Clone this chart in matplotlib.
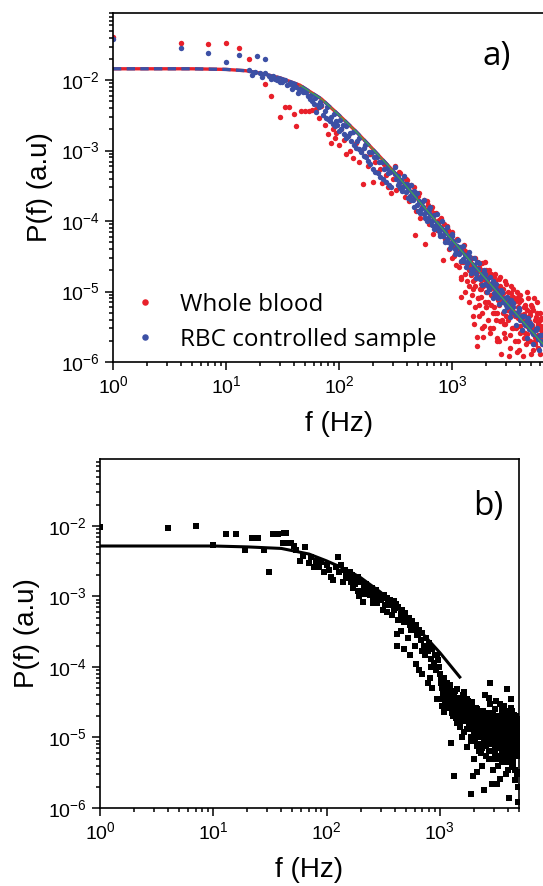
import matplotlib
matplotlib.use('Agg')
import matplotlib.pyplot as plt

plt.rcParams['font.family'] = ['Liberation Sans', 'DejaVu Sans']
plt.rcParams['mathtext.fontset'] = 'custom'
plt.rcParams['mathtext.rm'] = 'Liberation Sans'
plt.rcParams['mathtext.it'] = 'Liberation Sans:italic'
plt.rcParams['mathtext.default'] = 'regular'
plt.rcParams['axes.unicode_minus'] = False

RED = '#e8202a'
BLUE = '#3c50a5'

# ---- panel a : whole blood (red) ----
red1_f = [1, 4, 7, 10, 13, 16, 22, 25, 30, 33, 36, 40, 42, 46, 50, 54, 58, 62, 66, 70, 75, 80, 85, 88, 92, 95]
red1_p = [4.1e-2, 3.4e-2, 3.3e-2, 3.4e-2, 2.9e-2, 2.0e-2, 8.8e-3, 5.9e-3, 3.0e-3, 4.1e-3, 4.1e-3, 3.3e-3, 2.2e-3,
          3.6e-3, 3.6e-3, 3.7e-3, 3.8e-3, 3.9e-3, 2.9e-3, 4.3e-3, 2.3e-3, 1.7e-3, 1.3e-3, 2.0e-3, 1.5e-3, 1.8e-3]
red2_f = [100, 105, 110, 115, 120, 125, 133, 140, 150, 155, 163, 170, 180, 190, 200, 210, 220, 230, 240, 250,
          260, 270, 280, 290]
red2_p = [1.2e-3, 2.0e-3, 1.4e-3, 9.0e-4, 1.6e-3, 1.0e-3, 7.8e-4, 1.3e-3, 7.0e-4, 1.0e-3, 3.4e-4, 8.5e-4, 6.0e-4,
          9.0e-4, 3.6e-4, 7.0e-4, 5.0e-4, 5.5e-4, 3.5e-4, 6.5e-4, 4.5e-4, 3.0e-4, 5.0e-4, 2.5e-4]
red3_f = [300, 320, 340, 360, 380, 400, 420, 440, 470, 480, 500, 520, 540, 580, 600, 620, 660, 680, 700, 730,
          760, 800, 830, 860, 900, 950]
red3_p = [4.0e-4, 2.8e-4, 5.0e-4, 3.0e-4, 2.2e-4, 3.8e-4, 1.9e-4, 2.6e-4, 6.3e-5, 1.4e-4, 2.3e-4, 1.1e-4, 1.6e-4,
          4.8e-5, 1.9e-4, 9.0e-5, 1.6e-4, 6.5e-5, 1.3e-4, 7.5e-5, 1.05e-4, 1.1e-4, 2.8e-5, 5.5e-5, 8.5e-5, 4.0e-5]
red4_f = [1000, 1050, 1100, 1150, 1200, 1250, 1300, 1350, 1400, 1450, 1500, 1550, 1600, 1650, 1680, 1700, 1750,
          1800, 1850, 1900, 1950, 2000, 2100, 2150, 2200, 2300, 2350, 2400, 2500, 2550, 2600, 2700, 2750, 2800,
          2900, 3000, 3100, 3200, 3300, 3400, 3500, 3600, 3700, 3800, 3900, 4000, 4200, 4400, 4500, 4700, 4800,
          5000, 5200, 5400, 5600, 5800, 6000, 6200]
red4_p = [7.0e-5, 3.2e-5, 5.5e-5, 2.2e-5, 8.4e-6, 4.2e-5, 1.8e-5, 3.4e-5, 1.2e-5, 2.8e-5, 9.0e-6, 2.2e-5, 6.0e-6,
          2.3e-6, 1.7e-6, 1.6e-5, 4.5e-6, 1.3e-5, 2.5e-5, 2.3e-6, 7.0e-6, 2.0e-5, 4.0e-6, 1.1e-5, 1.8e-5, 3.0e-6,
          6.0e-6, 1.4e-5, 2.2e-6, 9.0e-6, 1.5e-5, 1.3e-6, 4.0e-6, 1.1e-5, 2.6e-6, 1.3e-5, 5.5e-6, 1.2e-6, 9.5e-6,
          3.0e-6, 1.1e-5, 2.0e-6, 7.5e-6, 4.2e-6, 1.5e-6, 9.0e-6, 2.8e-6, 6.5e-6, 1.8e-6, 8.0e-6, 3.5e-6, 1.3e-6,
          5.5e-6, 2.3e-6, 7.0e-6, 1.6e-6, 4.0e-6, 2.6e-6]
red5_f = [1000, 1100, 1200, 1300, 1400, 1500, 1600, 1700, 1800, 1900, 2000, 2100, 2200, 2300, 2400, 2500, 2600,
          2800, 3000, 3200, 3400, 3600, 3800, 4000, 4300, 4600, 4900, 5200, 5500, 5800, 6100]
red5_p = [3.0e-5, 4.2e-5, 2.6e-5, 3.8e-5, 2.0e-5, 3.0e-5, 1.5e-5, 2.6e-5, 8.5e-6, 1.9e-5, 1.0e-5, 1.6e-5, 6.5e-6,
          1.2e-5, 5.0e-6, 1.0e-5, 6.5e-6, 7.0e-6, 4.5e-6, 8.0e-6, 6.5e-6, 4.5e-6, 6.0e-6, 3.2e-6, 4.8e-6, 2.5e-6,
          4.6e-6, 3.0e-6, 4.4e-6, 2.4e-6, 3.2e-6]
red6_f = [1020, 1080, 1140, 1210, 1280, 1360, 1440, 1520, 1610, 1700, 1800, 1900, 2010, 2120, 2240, 2370, 2500,
          2640, 2790, 2950, 3120, 3300, 3480, 3680, 3890, 4110, 4340, 4590, 4850, 5120, 5410, 5720, 6050]
red6_p = [4.5e-5, 2.4e-5, 3.5e-5, 1.6e-5, 4.6e-5, 1.4e-5, 2.4e-5, 1.1e-5, 3.0e-5, 8.0e-6, 2.0e-5, 1.2e-5, 6.0e-6,
          1.8e-5, 9.0e-6, 1.6e-5, 5.0e-6, 1.2e-5, 8.0e-6, 3.5e-6, 1.0e-5, 5.0e-6, 8.5e-6, 3.0e-6, 7.0e-6, 4.2e-6,
          2.2e-6, 5.5e-6, 3.8e-6, 6.0e-6, 2.0e-6, 3.6e-6, 5.0e-6]
red7_f = [310, 350, 390, 430, 460, 510, 560, 610, 650, 720, 780, 850, 920, 980]
red7_p = [6.0e-4, 4.8e-4, 4.0e-4, 3.3e-4, 3.0e-4, 2.5e-4, 2.0e-4, 1.7e-4, 1.5e-4, 1.3e-4, 1.0e-4, 9.0e-5, 7.5e-5,
          6.5e-5]
red8_f = [1530, 1570, 1630, 1690, 1740, 1780, 1830, 1880, 1920, 1970, 2040, 2080, 2130, 2180, 2260, 2320, 2420,
          2470, 2530, 2580, 2660, 2720, 2820, 2880, 2970, 3050, 3150, 3250, 3350, 3450, 3550, 3650, 3750, 3850,
          3950, 4100, 4250, 4350, 4450, 4600, 4750, 4900, 5050, 5150, 5300, 5450, 5650, 5900, 6150, 6350]
red8_p = [1.4e-5, 3.5e-6, 1.9e-5, 8.0e-6, 2.2e-5, 1.1e-5, 5.0e-6, 1.5e-5, 3.2e-6, 2.6e-5, 1.4e-5, 7.0e-6, 2.0e-5,
          3.0e-6, 1.3e-5, 8.5e-6, 1.8e-5, 4.0e-6, 1.2e-5, 2.0e-6, 1.6e-5, 7.0e-6, 9.5e-6, 3.5e-6, 1.4e-5, 5.5e-6,
          8.0e-6, 2.4e-6, 1.2e-5, 5.0e-6, 7.0e-6, 3.2e-6, 1.0e-5, 2.0e-6, 5.5e-6, 7.5e-6, 3.8e-6, 6.0e-6, 2.6e-6,
          1.0e-5, 4.4e-6, 2.0e-6, 6.5e-6, 3.4e-6, 8.0e-6, 1.8e-6, 5.0e-6, 3.0e-6, 4.2e-6, 2.2e-6]
red9_f = [1210, 1260, 1310, 1370, 1420, 1480, 1540, 1600, 1660, 1720, 1790, 1860, 1930, 2000, 2070, 2150, 2230,
          2310, 2390, 2480, 2560, 2650, 2750, 2850, 2950, 3050, 3160, 3270, 3380, 3500, 3620, 3740, 3870, 4000,
          4140, 4280, 4420, 4570, 4730, 4890, 5050, 5220, 5400, 5580, 5770, 5960, 6160, 6360]
red9_p = [1.5e-5, 2.6e-5, 1.0e-5, 2.2e-5, 7.0e-6, 1.7e-5, 4.5e-6, 1.2e-5, 2.0e-5, 6.5e-6, 1.1e-5, 3.0e-6, 1.5e-5,
          6.0e-6, 1.3e-5, 2.6e-6, 9.0e-6, 5.0e-6, 1.1e-5, 2.0e-6, 7.5e-6, 3.8e-6, 1.0e-5, 5.0e-6, 2.2e-6, 8.0e-6,
          4.0e-6, 1.6e-6, 6.5e-6, 3.0e-6, 5.0e-6, 1.4e-6, 8.5e-6, 2.6e-6, 4.6e-6, 1.2e-6, 6.0e-6, 3.2e-6, 2.0e-6,
          5.2e-6, 2.8e-6, 1.5e-6, 4.0e-6, 2.2e-6, 3.4e-6, 1.3e-6, 2.8e-6, 2.0e-6]

# ---- panel a : RBC controlled sample (blue) ----
blue1_f = [1, 4, 7, 10, 13, 19, 22]
blue1_p = [3.8e-2, 2.9e-2, 2.4e-2, 1.8e-2, 2.3e-2, 2.2e-2, 2.0e-2]
blue2_f = [16, 18, 20, 24, 27, 30, 33, 35, 38, 40, 43, 46, 50, 55, 58, 60, 63, 66, 70, 72, 76, 80, 84, 88, 92,
           96, 100, 105, 110, 115, 120, 128, 135, 142, 150, 158, 165, 172, 180, 190, 200, 210, 220, 230, 245, 260,
           275, 290]
blue2_p = [1.38e-2, 1.3e-2, 1.28e-2, 1.15e-2, 1.05e-2, 9.5e-3, 1.02e-2, 8.5e-3, 7.5e-3, 8.3e-3, 6.5e-3, 7.6e-3,
           6.8e-3, 5.4e-3, 5.1e-3, 4.6e-3, 3.5e-3, 4.2e-3, 4.5e-3, 3.2e-3, 2.9e-3, 2.8e-3, 2.6e-3, 2.4e-3, 2.2e-3,
           2.3e-3, 1.9e-3, 2.0e-3, 1.7e-3, 1.5e-3, 1.6e-3, 1.35e-3, 1.2e-3, 1.1e-3, 1.05e-3, 9.5e-4, 8.5e-4, 8.0e-4,
           7.2e-4, 6.5e-4, 5.5e-4, 5.0e-4, 4.8e-4, 4.2e-4, 4.0e-4, 3.6e-4, 3.3e-4, 3.0e-4]
blue3_f = [22, 26, 32, 37, 42, 48, 53, 65, 75, 85, 95, 108, 125, 145, 165, 185, 205, 225, 250, 270]
blue3_p = [1.25e-2, 1.15e-2, 1.0e-2, 9.0e-3, 7.9e-3, 6.8e-3, 6.0e-3, 4.4e-3, 3.6e-3, 3.0e-3, 2.6e-3, 2.3e-3,
           1.75e-3, 1.35e-3, 1.1e-3, 9.5e-4, 8.0e-4, 6.8e-4, 5.5e-4, 4.8e-4]
blue4_f = [310, 320, 330, 340, 355, 370, 380, 395, 410, 425, 440, 455, 470, 490, 510, 530, 550, 570, 590, 610,
           630, 650, 680, 710, 740, 770, 800, 830, 860, 900, 940, 980, 1020, 1060, 1100, 1150, 1200, 1250, 1300,
           1360, 1420, 1480, 1550, 1620, 1700, 1780, 1860, 1950, 2040, 2130, 2230, 2330, 2440, 2550, 2670, 2800,
           2930, 3060, 3200, 3350, 3500, 3660, 3830, 4000, 4200, 4400, 4600, 4800, 5000, 5250, 5500, 5750, 6000,
           6300]
blue4_p = [4.6e-4, 3.9e-4, 4.4e-4, 3.5e-4, 3.8e-4, 3.0e-4, 3.4e-4, 2.6e-4, 2.9e-4, 2.3e-4, 2.5e-4, 2.0e-4,
           2.2e-4, 1.7e-4, 1.9e-4, 1.5e-4, 1.6e-4, 1.25e-4, 1.4e-4, 1.1e-4, 1.3e-4, 1.0e-4, 1.05e-4, 8.5e-5,
           9.5e-5, 7.2e-5, 8.0e-5, 6.2e-5, 7.0e-5, 5.5e-5, 6.0e-5, 4.6e-5, 5.2e-5, 4.0e-5, 4.5e-5, 3.4e-5, 3.8e-5,
           2.9e-5, 3.3e-5, 2.5e-5, 2.8e-5, 2.1e-5, 2.4e-5, 1.8e-5, 2.1e-5, 1.5e-5, 1.75e-5, 1.3e-5, 1.5e-5,
           1.1e-5, 1.3e-5, 9.5e-6, 1.1e-5, 8.2e-6, 9.5e-6, 7.0e-6, 8.0e-6, 6.0e-6, 7.0e-6, 5.2e-6, 6.0e-6, 4.6e-6,
           5.2e-6, 3.9e-6, 4.5e-6, 3.4e-6, 3.9e-6, 2.9e-6, 3.3e-6, 2.5e-6, 2.8e-6, 2.1e-6, 2.4e-6, 1.8e-6]
blue5_f = [330, 360, 400, 430, 460, 500, 540, 580, 620, 660, 700, 750, 790, 850, 920, 1000, 1080, 1180, 1280,
           1400, 1520, 1650, 1800, 1950, 2100, 2300, 2500, 2750, 3000, 3300, 3600, 3900, 4300, 4700, 5100, 5600,
           6100]
blue5_p = [3.2e-4, 2.7e-4, 3.4e-4, 2.0e-4, 2.7e-4, 1.4e-4, 1.85e-4, 1.1e-4, 1.5e-4, 8.8e-5, 1.2e-4, 8.0e-5,
           6.5e-5, 7.5e-5, 5.0e-5, 6.2e-5, 3.6e-5, 4.3e-5, 2.7e-5, 3.2e-5, 2.0e-5, 2.6e-5, 1.6e-5, 1.8e-5, 1.2e-5,
           1.4e-5, 9.0e-6, 1.0e-5, 6.5e-6, 7.5e-6, 5.0e-6, 5.8e-6, 3.6e-6, 4.2e-6, 2.7e-6, 3.0e-6, 2.0e-6]
blue6_f = [315, 345, 375, 405, 435, 465, 495, 525, 560, 600, 640, 690, 730, 780, 820, 870, 910, 960, 1010, 1070,
           1130, 1190, 1260, 1330, 1400, 1470, 1550, 1640, 1730, 1830, 1930, 2050, 2170, 2300, 2430, 2580, 2730,
           2900, 3080, 3260, 3460, 3670, 3890, 4130, 4380, 4650, 4930, 5230, 5550, 5890, 6250]
blue6_p = [5.9e-4, 2.9e-4, 4.3e-4, 2.1e-4, 3.2e-4, 1.6e-4, 2.5e-4, 1.3e-4, 2.0e-4, 1.0e-4, 1.6e-4, 7.8e-5,
           1.25e-4, 6.2e-5, 1.0e-4, 5.0e-5, 8.2e-5, 4.2e-5, 6.6e-5, 3.4e-5, 5.4e-5, 2.7e-5, 4.4e-5, 2.2e-5, 3.6e-5,
           1.85e-5, 3.0e-5, 1.55e-5, 2.5e-5, 1.25e-5, 2.0e-5, 1.0e-5, 1.6e-5, 8.2e-6, 1.3e-5, 6.6e-6, 1.06e-5,
           5.3e-6, 8.5e-6, 4.3e-6, 6.9e-6, 3.4e-6, 5.5e-6, 2.8e-6, 4.5e-6, 2.2e-6, 3.6e-6, 1.8e-6, 2.9e-6, 1.5e-6,
           2.4e-6]
blue7_f = [17, 21, 25, 28, 31, 36, 39, 44, 47, 51, 56, 61, 68, 78, 90, 102, 115, 132, 150, 170, 195, 215, 240,
           265, 285]
blue7_p = [1.2e-2, 1.12e-2, 1.05e-2, 1.0e-2, 9.4e-3, 8.8e-3, 8.4e-3, 7.6e-3, 7.3e-3, 6.7e-3, 6.1e-3, 5.6e-3,
           4.9e-3, 4.2e-3, 3.3e-3, 2.7e-3, 2.25e-3, 1.85e-3, 1.5e-3, 1.2e-3, 9.5e-4, 8.2e-4, 6.8e-4, 5.7e-4, 5.0e-4]

# fit curve
fit_a_f = [1, 5, 10, 15, 20, 30, 45, 70, 100, 140, 180, 300, 500, 1000, 2000, 4000, 10000]
fit_a_p = [1.45e-2, 1.45e-2, 1.42e-2, 1.36e-2, 1.26e-2, 1.08e-2, 8.5e-3, 5.4e-3, 3.2e-3, 1.9e-3, 1.25e-3, 5.2e-4,
           2.0e-4, 5.4e-5, 1.5e-5, 4.2e-6, 8.0e-7]

# ---- panel b (black) ----
blk1_f = [1, 4, 7, 10, 13, 16, 19, 22, 25, 28, 31, 34, 37, 41, 42, 44, 47, 49, 52, 54, 58, 62, 65, 70, 73, 78, 80]
blk1_p = [9.7e-3, 9.5e-3, 1.0e-2, 5.4e-3, 7.7e-3, 7.8e-3, 4.6e-3, 6.8e-3, 6.8e-3, 4.6e-3, 2.2e-3, 7.8e-3, 7.8e-3,
          5.8e-3, 8.0e-3, 8.0e-3, 5.8e-3, 5.8e-3, 5.2e-3, 4.6e-3, 3.2e-3, 3.8e-3, 5.0e-3, 3.0e-3, 3.6e-3, 2.6e-3,
          3.2e-3]
blk2_f = [85, 90, 95, 100, 105, 110, 115, 120, 125, 130, 135, 140, 145, 150, 155, 160, 165, 170, 175, 180, 185,
          190, 195, 200, 210, 215, 220, 225, 235, 240, 250, 255, 265, 275, 285, 295, 310, 320, 330, 340, 350, 360,
          375, 390, 400, 410, 415, 430, 450, 465, 480, 490, 510, 530, 550, 570, 590, 610, 630, 650, 680, 700, 720,
          750, 780, 800, 830, 850, 880, 900, 930, 960, 1000]
blk2_p = [2.6e-3, 3.1e-3, 2.2e-3, 2.8e-3, 2.4e-3, 1.9e-3, 1.7e-3, 2.6e-3, 3.6e-3, 2.2e-3, 2.8e-3, 1.6e-3, 2.4e-3,
          1.9e-3, 2.0e-3, 2.2e-3, 1.6e-3, 1.3e-3, 1.9e-3, 1.5e-3, 1.7e-3, 1.2e-3, 1.0e-3, 1.6e-3, 8.4e-4, 1.4e-3,
          1.1e-3, 1.5e-3, 1.2e-3, 1.05e-3, 1.3e-3, 8.0e-4, 1.1e-3, 1.25e-3, 9.0e-4, 1.05e-3, 9.5e-4, 1.05e-3,
          7.5e-4, 9.5e-4, 9.0e-4, 9.0e-4, 8.0e-4, 8.5e-4, 6.8e-4, 7.8e-4, 2.9e-4, 7.0e-4, 5.6e-4, 6.5e-4, 5.2e-4,
          5.8e-4, 4.4e-4, 5.0e-4, 4.0e-4, 4.5e-4, 3.4e-4, 3.9e-4, 2.8e-4, 3.4e-4, 2.4e-4, 3.0e-4, 2.0e-4, 2.6e-4,
          1.7e-4, 2.2e-4, 1.3e-4, 1.8e-4, 1.1e-4, 1.5e-4, 9.0e-5, 1.25e-4, 8.0e-5]
blk3_f = [148, 158, 168, 178, 188, 198, 208, 218, 228, 238, 248, 258, 268, 280, 292, 305, 315, 335, 345, 365, 380,
          395, 425, 455, 485, 520, 560, 600, 640, 690, 740, 790, 840, 890, 940, 980]
blk3_p = [2.2e-3, 1.8e-3, 2.0e-3, 1.5e-3, 1.9e-3, 1.6e-3, 1.2e-3, 1.45e-3, 1.1e-3, 1.3e-3, 1.2e-3, 9.0e-4, 1.0e-3,
          8.0e-4, 9.5e-4, 9.0e-4, 6.5e-4, 7.5e-4, 6.0e-4, 7.5e-4, 5.5e-4, 6.5e-4, 4.6e-4, 3.2e-4, 4.4e-4, 2.6e-4,
          3.3e-4, 2.0e-4, 2.9e-4, 1.7e-4, 1.5e-4, 1.9e-4, 1.0e-4, 1.15e-4, 1.5e-4, 1.0e-4]
blk4_f = [1020, 1050, 1080, 1100, 1130, 1160, 1190, 1220, 1250, 1280, 1310, 1330, 1350, 1380, 1410, 1440, 1470,
          1500, 1530, 1560, 1600, 1630, 1660, 1700, 1740, 1770, 1800, 1840, 1880, 1900, 1920, 1950, 1960, 2000,
          2010, 2050, 2100, 2150, 2200, 2250, 2300, 2350, 2400, 2450, 2500, 2550, 2600, 2650, 2700, 2750, 2800,
          2850, 2900, 2950, 3000, 3050, 3100, 3150, 3200, 3250, 3300, 3350, 3400, 3450, 3500, 3550, 3600, 3650,
          3700, 3750, 3800, 3850, 3900, 3950, 4000, 4050, 4100, 4150, 4200, 4250, 4300, 4350, 4400, 4450, 4500,
          4550, 4600, 4650, 4700, 4750, 4800, 4850, 4900, 4950, 5000]
blk4_p = [3.5e-5, 5.0e-5, 2.3e-5, 4.2e-5, 3.0e-5, 6.0e-5, 2.6e-5, 3.8e-5, 8.4e-6, 3.2e-5, 2.0e-5, 2.8e-6, 4.5e-5,
          2.5e-5, 1.6e-5, 3.5e-5, 2.2e-5, 1.4e-5, 3.0e-5, 1.9e-5, 4.0e-5, 1.2e-5, 2.6e-5, 1.7e-5, 7.3e-6, 3.3e-5,
          1.5e-5, 2.2e-5, 1.0e-5, 1.6e-6, 2.8e-5, 2.8e-6, 1.3e-5, 5.0e-6, 2.0e-5, 9.0e-6, 1.6e-5, 2.5e-5, 6.5e-6,
          1.2e-5, 1.9e-5, 4.0e-6, 1.0e-5, 1.8e-6, 1.5e-5, 7.5e-6, 2.2e-5, 1.1e-5, 5.0e-6, 1.4e-5, 6.0e-5, 9.0e-6,
          1.8e-5, 3.5e-6, 1.2e-5, 7.0e-6, 2.5e-5, 1.0e-5, 2.2e-6, 1.5e-5, 5.5e-6, 1.1e-5, 3.0e-5, 8.0e-6, 1.3e-5,
          4.5e-6, 1.8e-5, 9.5e-6, 2.8e-5, 6.0e-6, 1.2e-5, 3.0e-6, 1.6e-5, 4.8e-5, 8.5e-6, 1.4e-6, 1.1e-5, 2.0e-5,
          5.0e-6, 1.3e-5, 8.0e-6, 2.4e-5, 3.8e-6, 1.0e-5, 1.7e-5, 6.5e-6, 1.2e-5, 2.5e-6, 9.0e-6, 2.0e-5, 5.5e-6,
          1.1e-5, 1.4e-5, 3.2e-6, 8.0e-6]
blk5_f = [1040, 1120, 1200, 1300, 1400, 1480, 1580, 1680, 1780, 1860, 1980, 2080, 2180, 2280, 2380, 2480, 2580,
          2680, 2780, 2880, 2980, 3080, 3180, 3280, 3380, 3480, 3580, 3680, 3780, 3880, 3980, 4080, 4180, 4280,
          4380, 4480, 4580, 4680, 4780, 4880, 4980]
blk5_p = [2.8e-5, 3.6e-5, 4.8e-5, 2.4e-5, 3.0e-5, 1.8e-5, 2.4e-5, 3.0e-5, 1.9e-5, 2.6e-5, 1.5e-5, 2.2e-5, 1.4e-5,
          1.0e-5, 1.7e-5, 1.2e-5, 9.0e-6, 1.7e-5, 1.2e-5, 1.4e-5, 9.0e-6, 1.6e-5, 1.3e-5, 9.5e-6, 1.4e-5, 1.0e-5,
          7.5e-6, 1.2e-5, 9.0e-6, 1.1e-5, 1.4e-5, 7.0e-6, 1.0e-5, 1.5e-5, 7.5e-6, 1.2e-5, 9.5e-6, 1.4e-5, 7.0e-6,
          1.0e-5, 1.2e-5]
blk6_f = [1010, 1030, 1060, 1090, 1110, 1140, 1170, 1210, 1240, 1270, 1320, 1360, 1390, 1430, 1460, 1510, 1540,
          1590, 1620, 1650, 1720, 1760, 1820, 1870, 1930]
blk6_p = [8.0e-5, 6.0e-5, 4.5e-5, 7.0e-5, 3.2e-5, 5.0e-5, 4.0e-5, 2.8e-5, 5.5e-5, 2.2e-5, 4.2e-5, 3.0e-5, 1.9e-5,
          4.8e-5, 2.7e-5, 3.6e-5, 1.7e-5, 2.9e-5, 4.4e-5, 2.0e-5, 3.5e-5, 1.3e-5, 2.6e-5, 1.8e-5, 3.2e-5]
blk7_f = [2020, 2070, 2120, 2170, 2220, 2270, 2320, 2370, 2420, 2470, 2520, 2570, 2620, 2670, 2720, 2770, 2820,
          2870, 2920, 2970, 3020, 3070, 3120, 3170, 3220, 3270, 3320, 3370, 3420, 3470, 3520, 3570, 3620, 3670,
          3720, 3770, 3820, 3870, 3920, 3970, 4020, 4070, 4120, 4170, 4220, 4270, 4320, 4370, 4420, 4470, 4520,
          4570, 4620, 4670, 4720, 4770, 4820, 4870, 4920, 4970]
blk7_p = [1.2e-5, 2.6e-5, 7.5e-6, 1.8e-5, 1.0e-5, 2.1e-5, 6.0e-6, 1.5e-5, 2.4e-5, 8.5e-6, 1.8e-5, 5.5e-6, 1.3e-5,
          2.0e-5, 9.5e-6, 3.0e-5, 6.5e-6, 1.6e-5, 1.1e-5, 2.2e-5, 5.0e-6, 1.4e-5, 8.5e-6, 1.9e-5, 1.2e-5, 4.0e-6,
          2.0e-5, 8.0e-6, 1.5e-5, 1.1e-5, 2.5e-5, 6.5e-6, 1.3e-5, 4.5e-6, 1.7e-5, 1.0e-5, 2.2e-5, 7.0e-6, 1.2e-5,
          3.5e-6, 1.6e-5, 9.0e-6, 1.4e-5, 6.0e-6, 2.6e-5, 1.1e-5, 4.0e-6, 1.3e-5, 8.5e-6, 1.9e-5, 5.5e-6, 1.0e-5,
          1.6e-5, 7.5e-6, 1.2e-5, 3.0e-6, 1.5e-5, 9.0e-6, 2.0e-6, 1.1e-5]
blk8_f = [420, 480, 550, 620, 650, 700, 780, 820, 860, 940]
blk8_p = [2.0e-4, 1.8e-4, 1.5e-4, 1.1e-4, 9.0e-5, 8.0e-5, 6.0e-5, 7.0e-5, 5.0e-5, 3.5e-5]
blk9_f = [1015, 1070, 1125, 1180, 1235, 1290, 1345, 1420, 1490, 1570, 1640, 1710, 1790, 1850, 1910, 1990, 2060,
          2140, 2210, 2290, 2360, 2440, 2510, 2590, 2660, 2740, 2810, 2890, 2960, 3040, 3110, 3190, 3260, 3340,
          3410, 3490, 3560, 3640, 3710, 3790, 3860, 3940, 4010, 4090, 4160, 4240, 4310, 4390, 4460, 4540, 4610,
          4690, 4760, 4840, 4910, 4990]
blk9_p = [6.5e-5, 4.0e-5, 5.2e-5, 3.4e-5, 4.5e-5, 2.9e-5, 3.8e-5, 2.3e-5, 3.3e-5, 1.7e-5, 2.7e-5, 2.1e-5, 2.4e-5,
          1.6e-5, 2.0e-5, 1.1e-5, 1.9e-5, 1.3e-5, 1.7e-5, 8.0e-6, 2.3e-5, 1.3e-5, 9.0e-6, 1.9e-5, 1.4e-5, 6.5e-6,
          1.1e-5, 2.1e-5, 1.3e-5, 8.0e-6, 1.9e-5, 5.0e-6, 1.2e-5, 1.7e-5, 7.0e-6, 1.1e-5, 2.3e-5, 8.5e-6, 1.4e-5,
          5.5e-6, 1.9e-5, 9.5e-6, 1.3e-5, 6.0e-6, 1.6e-5, 8.5e-6, 1.2e-5, 2.0e-5, 4.5e-6, 1.0e-5, 1.5e-5, 7.0e-6,
          1.1e-5, 1.8e-5, 6.0e-6, 9.5e-6]
blk10_f = [1520, 1580, 1650, 1730, 1810, 1890, 1970, 2040, 2110, 2190, 2260, 2340, 2410, 2490, 2560, 2640, 2710,
           2790, 2860, 2940, 3010, 3090, 3160, 3240, 3310, 3390, 3460, 3540, 3610, 3690, 3760, 3840, 3910, 3990,
           4060, 4140, 4210, 4290, 4360, 4440, 4510, 4590, 4660, 4740, 4810, 4890, 4960]
blk10_p = [2.3e-5, 1.0e-5, 3.6e-5, 1.3e-5, 2.8e-5, 9.0e-6, 2.1e-5, 1.2e-5, 3.2e-6, 1.4e-5, 2.4e-5, 7.0e-6, 1.6e-5,
           4.0e-5, 1.0e-5, 1.5e-5, 3.6e-5, 8.0e-6, 2.2e-6, 1.3e-5, 1.8e-5, 6.0e-6, 3.3e-5, 1.0e-5, 1.6e-5, 2.6e-6,
           2.0e-5, 1.2e-5, 5.0e-6, 1.5e-5, 9.0e-6, 2.4e-5, 1.2e-5, 4.5e-6, 1.7e-5, 1.0e-5, 3.5e-5, 6.5e-6, 1.4e-5,
           1.1e-5, 2.1e-5, 3.5e-6, 1.3e-5, 9.0e-6, 1.7e-5, 1.2e-6, 1.3e-5]

fit_b_f = [1, 10, 20, 40, 70, 100, 150, 200, 300, 480, 700, 1000, 1500]
fit_b_p = [5.2e-3, 5.2e-3, 5.05e-3, 4.8e-3, 4.0e-3, 3.2e-3, 2.4e-3, 1.85e-3, 1.15e-3, 5.7e-4, 3.0e-4, 1.6e-4, 7.2e-5]

red_f = red1_f + red2_f + red3_f + red4_f + red5_f + red6_f + red7_f + red8_f + red9_f
red_p = red1_p + red2_p + red3_p + red4_p + red5_p + red6_p + red7_p + red8_p + red9_p
blue_f = blue1_f + blue2_f + blue3_f + blue4_f + blue5_f + blue6_f + blue7_f
blue_p = blue1_p + blue2_p + blue3_p + blue4_p + blue5_p + blue6_p + blue7_p
blk_f = blk1_f + blk2_f + blk3_f + blk4_f + blk5_f + blk6_f + blk7_f + blk8_f + blk9_f + blk10_f
blk_p = blk1_p + blk2_p + blk3_p + blk4_p + blk5_p + blk6_p + blk7_p + blk8_p + blk9_p + blk10_p

W, H = 543, 886
fig = plt.figure(figsize=(W / 100, H / 100), dpi=100)

# panel a runs past the right edge of the picture
ax1 = fig.add_axes([113 / W, (H - 362) / H, 452 / W, 349.5 / H])
ax2 = fig.add_axes([100 / W, (H - 808) / H, 419 / W, 349 / H])

ax1.plot(red_f, red_p, 'o', ms=3.9, mew=0, color=RED, zorder=2, label='Whole blood')
ax1.plot(fit_a_f, fit_a_p, '-', color=RED, lw=2.4, zorder=2.2)
ax1.plot(fit_a_f, fit_a_p, '--', color=BLUE, lw=2.4, dashes=(2.5, 1.6), zorder=2.3)
ax1.plot(blue_f, blue_p, 'o', ms=3.9, mew=0, color=BLUE, zorder=2.5, label='RBC controlled sample')
ax1.plot(fit_a_f[6:], fit_a_p[6:], '-', color='#3fae49', lw=0.8, zorder=3)

ax2.plot(fit_b_f, fit_b_p, '-', color='black', lw=2.2, zorder=2)
ax2.plot(blk_f, blk_p, 's', ms=3.8, mew=0, color='black', zorder=2.5)

for ax in (ax1, ax2):
    ax.set_xscale('log')
    ax.set_yscale('log')
    ax.set_xticks([1, 10, 100, 1000])
    ax.tick_params(which='both', direction='out', labelsize=14, width=1.1, top=False, right=False)
    ax.tick_params(which='major', length=6)
    ax.tick_params(which='minor', length=3)
    for s in ax.spines.values():
        s.set_linewidth(1.2)
    ax.set_xlabel('f (Hz)', fontsize=20, labelpad=10)
    ax.set_ylabel('P(f) (a.u)', fontsize=20, labelpad=6)

ax1.set_xlim(1, 1e4)
ax1.set_ylim(1e-6, 10 ** -1.04)
ax2.set_xlim(1, 5000)
ax2.set_ylim(1e-6, 10 ** -1.05)

ax1.text(497 / W, 1 - 56 / H, 'a)', transform=fig.transFigure, fontsize=24, family='Open Sans',
         ha='center', va='center')
ax2.text(488 / W, 1 - 506 / H, 'b)', transform=fig.transFigure, fontsize=24, family='Open Sans',
         ha='center', va='center')

ax1.legend(loc='lower left', bbox_to_anchor=(0.028, 0.03), frameon=False, numpoints=1, markerscale=1.2,
           prop={'family': 'Open Sans', 'size': 17.5}, handlelength=1.6, handletextpad=0.64,
           labelspacing=0.44, borderaxespad=0, borderpad=0)

fig.savefig('out.png', dpi=100)
